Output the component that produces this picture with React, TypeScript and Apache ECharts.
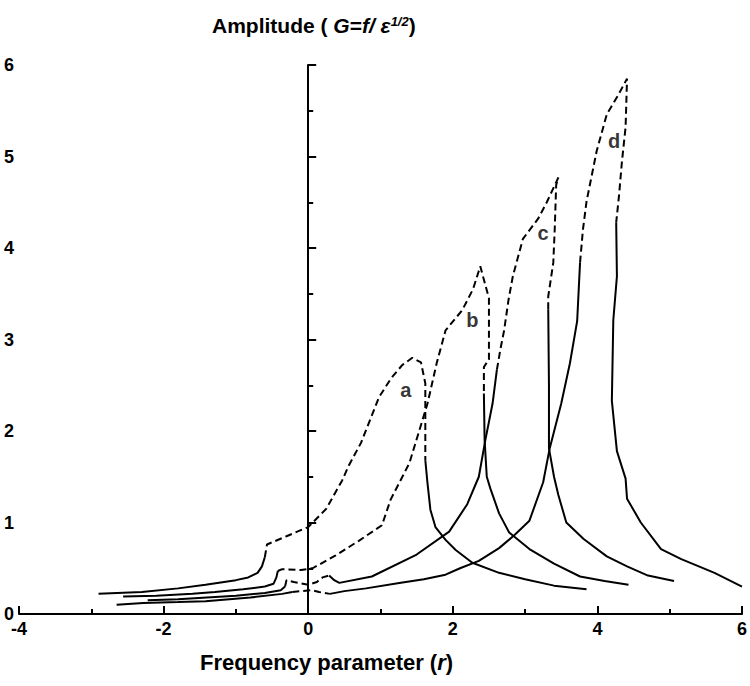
import React, { useEffect, useRef } from "react";
import * as echarts from "echarts";

// x ticks and y ticks
const xTicks = { min: -4, max: 6, step: 2, minorStep: 1 };
const yTicks = { min: 0, max: 6, step: 1, minorStep: 0.5 };
const xMajorTicks = [-4, -2, 0, 2, 4, 6];
const xMinorTicks = [-3, -1, 1, 3, 5];

// Curve a
const aTail = [[-2.9,0.22],[-2.3,0.24],[-1.8,0.28],[-1.42,0.32],[-1.0,0.37],[-0.83,0.4],[-0.7,0.45],[-0.64,0.52],[-0.6,0.62]];
const aUpper = [[-0.6,0.62],[-0.57,0.76],[-0.3,0.85],[0,0.95],[0.25,1.15],[0.47,1.46],[0.56,1.62],[0.73,1.87],[0.98,2.37],[1.15,2.58],[1.3,2.72],[1.44,2.8],[1.56,2.75],[1.62,2.52],[1.62,2.1],[1.62,1.68]];
const aRight = [[1.62,1.68],[1.65,1.43],[1.69,1.14],[1.76,0.95],[1.9,0.81],[2.04,0.7],[2.27,0.56],[2.64,0.45],[3.0,0.38],[3.4,0.31],[3.85,0.27]];

// Curve b
const bTail = [[-2.56,0.19],[-2.1,0.2],[-1.6,0.22],[-1.29,0.24],[-0.9,0.27],[-0.6,0.3],[-0.48,0.33],[-0.44,0.4],[-0.42,0.47]];
const bUpper = [[-0.42,0.47],[-0.36,0.49],[-0.1,0.48],[0.06,0.5],[0.38,0.64],[0.7,0.8],[1.02,0.97],[1.14,1.25],[1.4,1.65],[1.65,2.3],[1.78,2.75],[1.9,3.1],[2.13,3.32],[2.28,3.55],[2.38,3.8],[2.5,3.45],[2.5,2.78],[2.43,2.7],[2.43,2.41]];
const bRight = [[2.43,2.41],[2.44,1.9],[2.47,1.5],[2.52,1.37],[2.64,1.1],[2.78,0.89],[3.06,0.71],[3.4,0.55],[3.76,0.41],[4.1,0.36],[4.43,0.32]];

// Curve c
const cTail = [[-2.22,0.15],[-1.8,0.16],[-1.4,0.18],[-1.0,0.2],[-0.6,0.23],[-0.38,0.26],[-0.32,0.3]];
const cJump = [[-0.32,0.3],[-0.3,0.37],[-0.2,0.35],[0,0.32],[0.12,0.35],[0.2,0.4],[0.29,0.42]];
const cRise = [[0.29,0.42],[0.36,0.37],[0.43,0.34],[0.88,0.41],[1.5,0.65],[1.95,0.9],[2.2,1.2],[2.36,1.5],[2.45,1.9],[2.55,2.3],[2.61,2.67]];
const cUpper = [[2.61,2.67],[2.66,2.9],[2.71,3.1],[2.77,3.43],[2.83,3.69],[2.97,4.1],[3.18,4.32],[3.3,4.5],[3.46,4.77],[3.43,4.69],[3.41,4.21],[3.39,3.84],[3.32,3.47],[3.32,3.33]];
const cRight = [[3.32,3.33],[3.33,2.5],[3.33,1.81],[3.4,1.5],[3.46,1.3],[3.57,1.0],[3.81,0.82],[4.13,0.63],[4.41,0.52],[4.7,0.42],[5.06,0.36]];

// Curve d
const dTail = [[-2.65,0.1],[-2.28,0.12],[-1.8,0.13],[-1.42,0.14],[-0.8,0.18],[-0.36,0.22],[-0.22,0.24]];
const dJump = [[-0.22,0.24],[-0.1,0.25],[0.05,0.26],[0.15,0.24],[0.3,0.22]];
const dRise = [[0.3,0.22],[0.5,0.25],[0.8,0.28],[1.26,0.34],[1.6,0.38],[1.9,0.43],[2.1,0.5],[2.36,0.58],[2.64,0.72],[2.85,0.86],[3.06,1.02],[3.25,1.44],[3.34,1.81],[3.5,2.3],[3.62,2.74],[3.72,3.2],[3.76,3.84]];
const dUpper = [[3.76,3.84],[3.8,4.2],[3.85,4.51],[3.99,5.06],[4.13,5.46],[4.28,5.66],[4.41,5.85],[4.39,5.32],[4.34,4.95],[4.3,4.58],[4.26,4.28]];
const dRight = [[4.26,4.28],[4.27,3.69],[4.22,3.21],[4.2,2.33],[4.27,1.78],[4.39,1.48],[4.41,1.26],[4.6,1.0],[4.88,0.71],[5.16,0.6],[5.62,0.45],[6.0,0.3]];

// Curve labels
const curveLabels = [[1.35,2.45,"a"],[2.27,3.21,"b"],[3.25,4.16,"c"],[4.23,5.17,"d"]];

const solidSegments = [aTail, aRight, bTail, bRight, cTail, cRise, cRight, dTail, dRise, dRight];
const dashedSegments = [aUpper, bUpper, cJump, cUpper, dJump, dUpper];

const FONT = "Liberation Sans";
// tick lengths expressed in y units (about 8 px and 5 px)
const MAJOR_TICK = 0.088;
const MINOR_TICK = 0.055;

export default function App() {
  const ref = useRef<HTMLDivElement>(null);
  useEffect(() => {
    if (!ref.current) return;
    const chart = echarts.init(ref.current, null, { renderer: "svg" });
    const axisMarks: any[] = [{ yAxis: yTicks.min }];
    xMajorTicks.forEach((x) =>
      axisMarks.push([{ coord: [x, yTicks.min] }, { coord: [x, yTicks.min + MAJOR_TICK] }])
    );
    xMinorTicks.forEach((x) =>
      axisMarks.push([{ coord: [x, yTicks.min] }, { coord: [x, yTicks.min + MINOR_TICK] }])
    );
    const series: any[] = [];
    solidSegments.forEach((seg, i) =>
      series.push({
        type: "line", data: seg, symbol: "none", silent: true,
        lineStyle: { color: "#000", width: 2, type: "solid" },
        ...(i === 0
          ? {
              markLine: {
                silent: true, symbol: "none", label: { show: false },
                lineStyle: { color: "#000", width: 2, type: "solid" },
                data: axisMarks,
              },
            }
          : {}),
      })
    );
    dashedSegments.forEach((seg) =>
      series.push({
        type: "line", data: seg, symbol: "none", silent: true,
        lineStyle: { color: "#000", width: 2, type: [7, 4] },
      })
    );
    series.push({
      type: "scatter",
      data: curveLabels.map((l) => ({ value: [l[0], l[1]], name: l[2] })),
      symbolSize: 0,
      silent: true,
      label: {
        show: true, position: "inside", formatter: (p: any) => p.name,
        color: "#000", textBorderWidth: 0, fontFamily: FONT, fontWeight: "bold", fontSize: 20,
      },
    });
    chart.setOption({
      animation: false,
      backgroundColor: "#fff",
      grid: { left: 19, right: 7, top: 65, bottom: 72 },
      xAxis: [
        {
          type: "value", min: xTicks.min, max: xTicks.max, interval: xTicks.step,
          axisLine: { show: true, onZero: false, lineStyle: { color: "#000", width: 2 } },
          axisTick: { show: true, inside: true, length: 8, lineStyle: { color: "#000", width: 2 } },
          splitLine: { show: false },
          axisLabel: { color: "#000", fontFamily: FONT, fontWeight: "bold", fontSize: 18, margin: 6 },
        },
        {
          type: "value", min: xTicks.min, max: xTicks.max, interval: xTicks.minorStep,
          position: "bottom",
          axisLine: { show: false, onZero: false },
          axisTick: { show: true, inside: true, length: 5, lineStyle: { color: "#000", width: 2 } },
          splitLine: { show: false },
          axisLabel: { show: false },
        },
      ],
      yAxis: [
        {
          type: "value", min: yTicks.min, max: yTicks.max, interval: yTicks.step,
          position: "left",
          axisLine: { show: true, onZero: true, lineStyle: { color: "#000", width: 2 } },
          axisTick: { show: true, inside: true, length: 8, lineStyle: { color: "#000", width: 2 } },
          splitLine: { show: false },
          axisLabel: { color: "#000", fontFamily: FONT, fontWeight: "bold", fontSize: 18, margin: 5 },
        },
        {
          type: "value", min: yTicks.min, max: yTicks.max, interval: yTicks.minorStep,
          position: "left",
          axisLine: { show: false, onZero: true },
          axisTick: { show: true, inside: true, length: 5, lineStyle: { color: "#000", width: 2 } },
          splitLine: { show: false },
          axisLabel: { show: false },
        },
      ],
      graphic: [
        {
          type: "text", left: 212, top: 15,
          style: {
            text: "{n|Amplitude ( }{i|G}{n|=}{i|f/ ε}{s|1/2}{n|)}",
            fill: "#000",
            rich: {
              n: { fontFamily: FONT, fontWeight: "bold", fontSize: 21, fill: "#000" },
              i: { fontFamily: FONT, fontWeight: "bold", fontStyle: "italic", fontSize: 21, fill: "#000" },
              s: { fontFamily: FONT, fontWeight: "bold", fontStyle: "italic", fontSize: 13, fill: "#000", verticalAlign: "top" },
            },
          },
        },
        {
          type: "text", left: 200, top: 651,
          style: {
            text: "{n|Frequency parameter (}{i|r}{n|)}",
            fill: "#000",
            rich: {
              n: { fontFamily: FONT, fontWeight: "bold", fontSize: 22, fill: "#000" },
              i: { fontFamily: FONT, fontWeight: "bold", fontStyle: "italic", fontSize: 22, fill: "#000" },
            },
          },
        },
      ],
      series,
    });
    return () => chart.dispose();
  }, []);
  return (
    <div
      ref={ref}
      style={{ position: "fixed", left: 0, top: 0, width: 750, height: 686, background: "#fff" }}
    />
  );
}
